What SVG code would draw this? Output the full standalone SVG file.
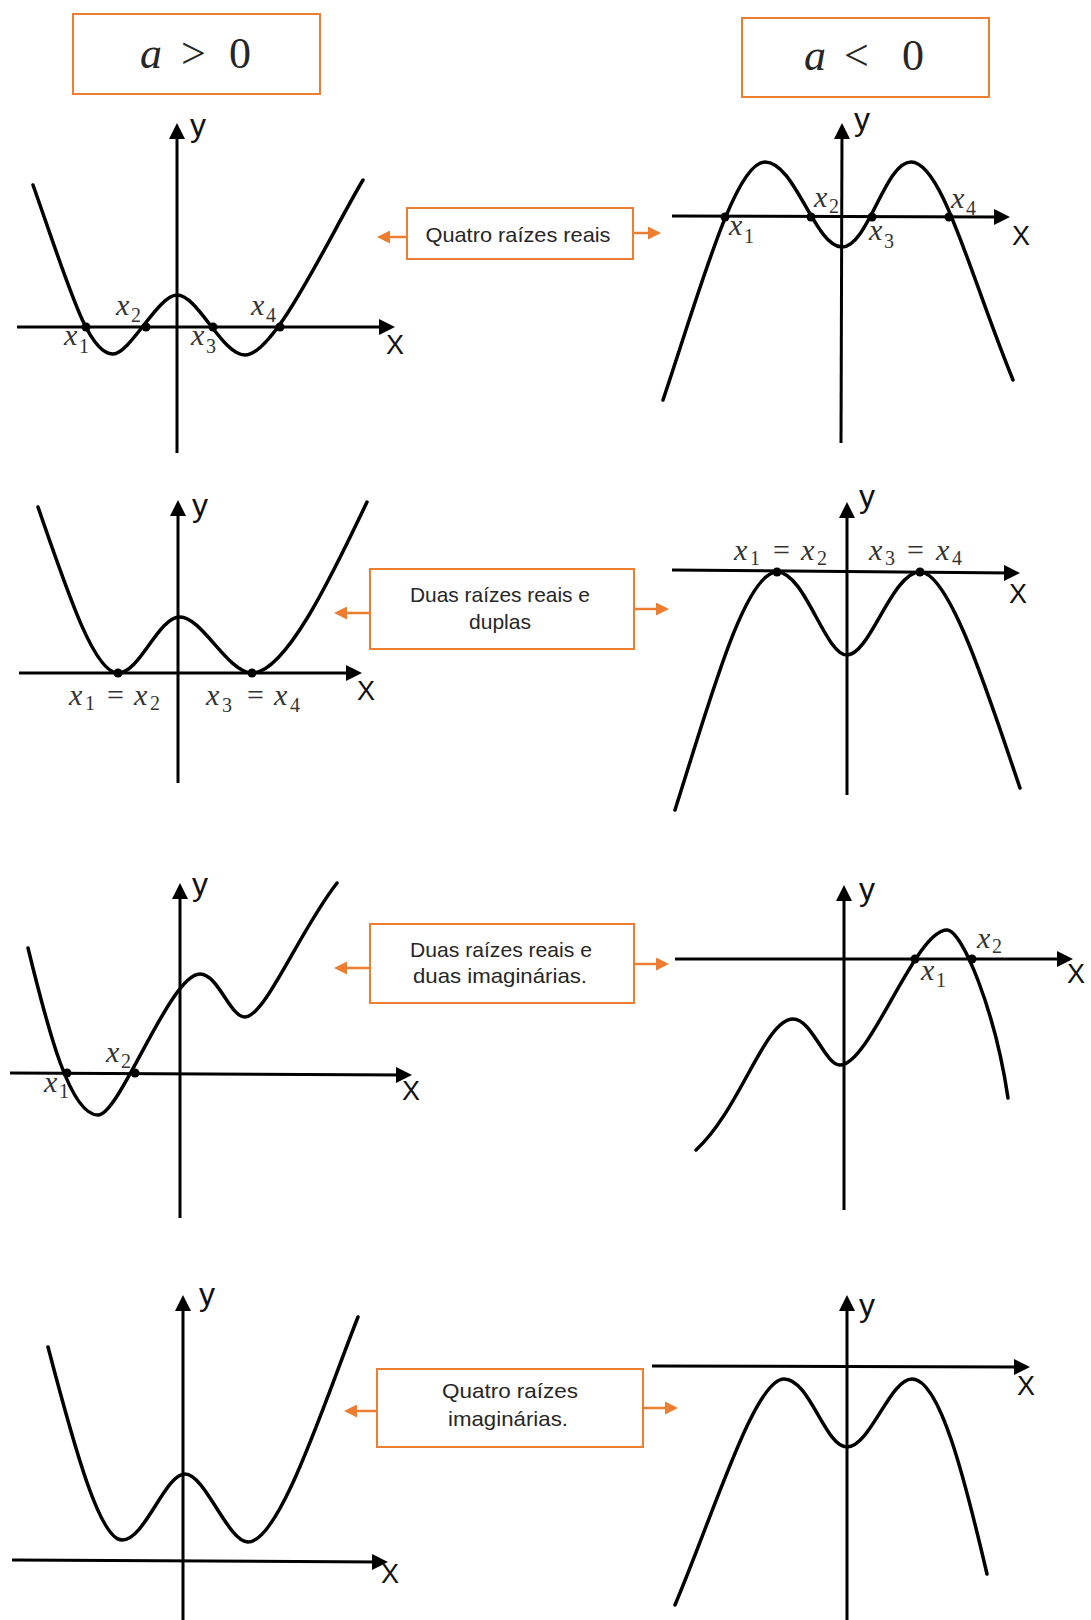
<svg xmlns="http://www.w3.org/2000/svg" width="1091" height="1620" viewBox="0 0 1091 1620">
<defs>
<style>
.box{fill:#fff;stroke:#ED7D31;stroke-width:2}
.lbl{font-family:"Liberation Sans",Arial,sans-serif;font-size:21px;fill:#262626;text-anchor:middle}
.title{font-family:"Liberation Serif","Times New Roman",serif;font-size:44px;fill:#262626}
.axis{stroke:#000;stroke-width:3;fill:none;marker-end:url(#ah)}
.curve{stroke:#000;stroke-width:3.5;fill:none;stroke-linecap:round;stroke-linejoin:round}
.ax{font-family:"Liberation Sans",Arial,sans-serif;font-size:32px;fill:#111}
.axX{font-family:"Liberation Sans",Arial,sans-serif;font-size:27px;fill:#111}
.m{font-family:"Liberation Serif","Times New Roman",serif;font-size:30px;fill:#333}
.mi{font-style:italic}
.sub{font-size:20px}
.conn{stroke:#ED7D31;stroke-width:2.5;fill:none;marker-end:url(#oh)}
.dot{fill:#000}
</style>
<marker id="ah" markerUnits="userSpaceOnUse" markerWidth="16" markerHeight="16" refX="8" refY="8" orient="auto"><path d="M0,0 L16,8 L0,16 z" fill="#000"/></marker>
<marker id="oh" markerUnits="userSpaceOnUse" markerWidth="13" markerHeight="13" refX="6" refY="6.5" orient="auto"><path d="M0,0 L13,6.5 L0,13 z" fill="#ED7D31"/></marker>
</defs>
<rect width="1091" height="1620" fill="#fff"/>

<g id="title-pos">
<rect class="box" x="73" y="14" width="247" height="80"/>
<text class="title" y="68"><tspan x="140" font-style="italic">a</tspan><tspan x="181">&gt;</tspan><tspan x="229">0</tspan></text>
</g>
<g id="title-neg">
<rect class="box" x="742" y="18" width="247" height="79"/>
<text class="title" y="70"><tspan x="804" font-style="italic">a</tspan><tspan x="844">&lt;</tspan><tspan x="902">0</tspan></text>
</g>

<g id="label-1">
<rect class="box" x="407" y="208" width="226" height="51"/>
<text class="lbl" x="518" y="242" textLength="185" lengthAdjust="spacingAndGlyphs">Quatro raízes reais</text>
</g>
<g id="label-2">
<rect class="box" x="370" y="569" width="264" height="80"/>
<text class="lbl" x="500" y="602" textLength="180" lengthAdjust="spacingAndGlyphs">Duas raízes reais e</text>
<text class="lbl" x="500" y="629">duplas</text>
</g>
<g id="label-3">
<rect class="box" x="370" y="924" width="264" height="79"/>
<text class="lbl" x="501" y="957" textLength="182" lengthAdjust="spacingAndGlyphs">Duas raízes reais e</text>
<text class="lbl" x="500" y="983" textLength="174" lengthAdjust="spacingAndGlyphs">duas imaginárias.</text>
</g>
<g id="label-4">
<rect class="box" x="377" y="1369" width="266" height="78"/>
<text class="lbl" x="510" y="1398" textLength="136" lengthAdjust="spacingAndGlyphs">Quatro raízes</text>
<text class="lbl" x="508" y="1426" textLength="120" lengthAdjust="spacingAndGlyphs">imaginárias.</text>
</g>

<g id="graph-1-pos">
<path class="axis" d="M177,453 L177,131"/>
<path class="axis" d="M17,327 L387,327"/>
<path class="curve" d="M33,185 C70,290 88,354 113,354 C130,354 158,295 177,295 C198,295 222,355 245,355 C275,355 330,235 363,180"/>
<circle class="dot" cx="86" cy="327" r="4.5"/><circle class="dot" cx="146" cy="327" r="4.5"/><circle class="dot" cx="213" cy="327" r="4.5"/><circle class="dot" cx="280" cy="327" r="4.5"/>
<text class="ax" x="190" y="136">y</text>
<text class="axX" x="386" y="354">X</text>
<text class="m"><tspan class="mi" x="64" y="345">x</tspan><tspan class="sub" x="79" y="353">1</tspan></text>
<text class="m"><tspan class="mi" x="116" y="315">x</tspan><tspan class="sub" x="131" y="322">2</tspan></text>
<text class="m"><tspan class="mi" x="191" y="345">x</tspan><tspan class="sub" x="206" y="353">3</tspan></text>
<text class="m"><tspan class="mi" x="251" y="315">x</tspan><tspan class="sub" x="266" y="322">4</tspan></text>
</g>

<g id="graph-1-neg">
<path class="axis" d="M841,443 L842,131"/>
<path class="axis" d="M672,216 L1002,217"/>
<path class="curve" d="M663,400 C700,290 735,162 765,162 C795,162 815,247 842,247 C868,247 885,162 911,162 C942,162 970,275 1013,380"/>
<circle class="dot" cx="725" cy="217" r="4.5"/><circle class="dot" cx="811" cy="217" r="4.5"/><circle class="dot" cx="872" cy="217" r="4.5"/><circle class="dot" cx="949" cy="217" r="4.5"/>
<text class="ax" x="854" y="130">y</text>
<text class="axX" x="1012" y="245">X</text>
<text class="m"><tspan class="mi" x="729" y="235">x</tspan><tspan class="sub" x="744" y="243">1</tspan></text>
<text class="m"><tspan class="mi" x="814" y="207">x</tspan><tspan class="sub" x="829" y="213">2</tspan></text>
<text class="m"><tspan class="mi" x="869" y="240">x</tspan><tspan class="sub" x="884" y="248">3</tspan></text>
<text class="m"><tspan class="mi" x="951" y="208">x</tspan><tspan class="sub" x="966" y="215">4</tspan></text>
</g>

<g id="graph-2-pos">
<path class="axis" d="M178,783 L178,508"/>
<path class="axis" d="M19,673 L354,673"/>
<path class="curve" d="M38,507 C70,600 95,673 118,673 C140,673 158,617 180,617 C202,617 228,673 252,673 C285,673 330,580 367,502"/>
<circle class="dot" cx="118" cy="673" r="4.5"/><circle class="dot" cx="252" cy="673" r="4.5"/>
<text class="ax" x="192" y="516">y</text>
<text class="axX" x="357" y="700">X</text>
<text class="m"><tspan class="mi" x="69" y="705">x</tspan><tspan class="sub" x="85" y="710">1</tspan><tspan x="107" y="705">=</tspan><tspan class="mi" x="134" y="705">x</tspan><tspan class="sub" x="150" y="710">2</tspan></text>
<text class="m"><tspan class="mi" x="206" y="705">x</tspan><tspan class="sub" x="222" y="712">3</tspan><tspan x="247" y="705">=</tspan><tspan class="mi" x="274" y="705">x</tspan><tspan class="sub" x="290" y="712">4</tspan></text>
</g>

<g id="graph-2-neg">
<path class="axis" d="M847,795 L847,510"/>
<path class="axis" d="M672,570 L1012,573"/>
<path class="curve" d="M675,810 C710,700 745,572 777,572 C805,572 825,655 847,655 C870,655 892,572 920,572 C950,572 990,700 1020,788"/>
<circle class="dot" cx="777" cy="572" r="4.5"/><circle class="dot" cx="920" cy="572" r="4.5"/>
<text class="ax" x="859" y="507">y</text>
<text class="axX" x="1009" y="603">X</text>
<text class="m"><tspan class="mi" x="734" y="560">x</tspan><tspan class="sub" x="750" y="565">1</tspan><tspan x="773" y="560">=</tspan><tspan class="mi" x="801" y="560">x</tspan><tspan class="sub" x="817" y="565">2</tspan></text>
<text class="m"><tspan class="mi" x="869" y="560">x</tspan><tspan class="sub" x="885" y="565">3</tspan><tspan x="907" y="560">=</tspan><tspan class="mi" x="936" y="560">x</tspan><tspan class="sub" x="952" y="565">4</tspan></text>
</g>

<g id="graph-3-pos">
<path class="axis" d="M180,1218 L180,891"/>
<path class="axis" d="M10,1073 L404,1075"/>
<path class="curve" d="M28,948 C48,1030 70,1115 98,1115 C120,1115 170,974 200,974 C218,974 230,1017 245,1017 C265,1017 300,930 337,883"/>
<circle class="dot" cx="67" cy="1073" r="4.5"/><circle class="dot" cx="135" cy="1073" r="4.5"/>
<text class="ax" x="192" y="895">y</text>
<text class="axX" x="402" y="1100">X</text>
<text class="m"><tspan class="mi" x="44" y="1092">x</tspan><tspan class="sub" x="59" y="1098">1</tspan></text>
<text class="m"><tspan class="mi" x="106" y="1062">x</tspan><tspan class="sub" x="121" y="1068">2</tspan></text>
</g>

<g id="graph-3-neg">
<path class="axis" d="M844,1210 L844,893"/>
<path class="axis" d="M675,959 L1065,959"/>
<path class="curve" d="M696,1150 C740,1110 765,1019 793,1019 C812,1019 825,1065 840,1065 C870,1065 915,930 947,930 C962,930 995,1010 1008,1098"/>
<circle class="dot" cx="915" cy="959" r="4.5"/><circle class="dot" cx="972" cy="959" r="4.5"/>
<text class="ax" x="859" y="900">y</text>
<text class="axX" x="1067" y="983">X</text>
<text class="m"><tspan class="mi" x="921" y="980">x</tspan><tspan class="sub" x="936" y="987">1</tspan></text>
<text class="m"><tspan class="mi" x="977" y="948">x</tspan><tspan class="sub" x="992" y="953">2</tspan></text>
</g>

<g id="graph-4-pos">
<path class="axis" d="M183,1620 L183,1303"/>
<path class="axis" d="M12,1560 L380,1562"/>
<path class="curve" d="M48,1347 C75,1450 100,1540 122,1540 C145,1540 165,1474 185,1474 C205,1474 228,1542 248,1542 C280,1542 325,1400 358,1317"/>
<text class="ax" x="199" y="1305">y</text>
<text class="axX" x="381" y="1583">X</text>
</g>

<g id="graph-4-neg">
<path class="axis" d="M847,1620 L847,1303"/>
<path class="axis" d="M652,1366 L1022,1367"/>
<path class="curve" d="M675,1605 C715,1510 755,1379 784,1379 C810,1379 825,1447 847,1447 C870,1447 890,1379 912,1379 C940,1379 965,1480 987,1574"/>
<text class="ax" x="859" y="1316">y</text>
<text class="axX" x="1017" y="1395">X</text>
</g>

<g id="connectors">
<path class="conn" d="M407,237 L384,237"/>
<path class="conn" d="M633,233 L654,233"/>
<path class="conn" d="M370,613 L341,613"/>
<path class="conn" d="M634,609 L662,609"/>
<path class="conn" d="M370,968 L341,968"/>
<path class="conn" d="M634,964 L662,964"/>
<path class="conn" d="M377,1411 L351,1411"/>
<path class="conn" d="M643,1408 L671,1408"/>
</g>
</svg>
